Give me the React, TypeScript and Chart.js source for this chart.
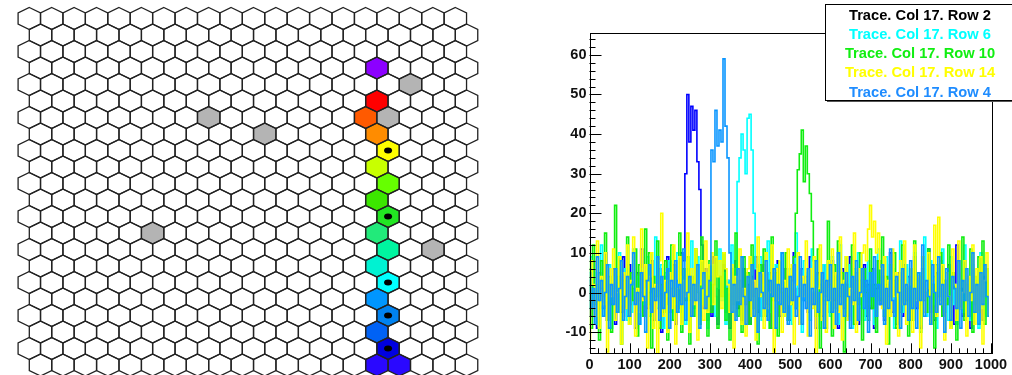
import { useEffect, useRef } from "react";
import { Chart, registerables } from "chart.js";

Chart.register(...registerables);

// ---------------- Detector map (honeycomb) ----------------
const GRID_COLS = 20;
const GRID_ROWS = 22;

// Pads with signal, coloured by amplitude
const HIT_ROWS = [3, 5, 6, 7, 8, 9, 10, 11, 12, 13, 14, 15, 16, 17, 18, 19, 20, 21, 21];
const HIT_COLS = [15, 15, 15, 15, 16, 15, 16, 15, 16, 15, 16, 15, 16, 15, 16, 15, 16, 15, 16];
const HIT_COLORS = [
  "#8c00ff", "#ff0000", "#ff5a00", "#ff8c00", "#ffff00", "#c8ff00", "#66ff00",
  "#3ce600", "#22e622", "#22ea7a", "#00f5a0", "#00f2d2", "#00ffff", "#0096ff",
  "#0082f0", "#0062f5", "#0000e0", "#2a08ff", "#2a08ff",
];

// Masked pads
const DEAD_ROWS = [4, 6, 6, 7, 13, 14];
const DEAD_COLS = [17, 8, 16, 10, 5, 18];
const DEAD_COLOR = "#b4b4b4";

// Pads whose traces are shown
const SEED_ROWS = [8, 12, 16, 18, 20];
const SEED_COLS = [16, 16, 16, 16, 16];

// ---------------- Traces ----------------
const SAMPLE_STEP = 5;
const TRACE_LABELS = [
  "Trace. Col 17. Row 2",
  "Trace. Col 17. Row 6",
  "Trace. Col 17. Row 10",
  "Trace. Col 17. Row 14",
  "Trace. Col 17. Row 4",
];
const TRACE_COLORS = ["#0000ff", "#00ffff", "#11ee11", "#ffff00", "#0a96ff"];
const LEGEND_TEXT_COLORS = ["#000000", "#00ffff", "#11ee11", "#ffff00", "#1e8cff"];
const TRACE_ORDER = [4, 3, 2, 1, 0];

const ROW2 = [
  3, -6, 8, -2, -9, 5, 1, -4, 10, -7, 2, -3, 6, -8, 0, 4, -5, 9, -1, -6,
  7, -3, 1, -9, 5, -2, 11, -6, 3, -4, 0, 8, -7, 2, -1, 6, -10, 4, -3, 9,
  -5, 1, 7, -8, 3, -2, 10, 8, 30, 50, 38, 47, 41, 46, 33, 26, 12, -4, 6, -7,
  2, -6, 9, -1, -8, 4, 0, 7, -5, 3, -9, 5, -2, 8, -4, 1, -7, 6, -3, 2,
  -8, 4, -1, 9, -5, 2, -6, 7, 0, -3, 5, -9, 3, -2, 8, -6, 1, -4, 6, -1,
  -7, 3, 10, -4, 1, -8, 6, -2, 4, -5, 9, -3, 0, -9, 5, 2, -6, 7, -1, 3,
  -5, 8, -2, 4, -9, 1, 6, -4, 2, -7, 9, -3, 0, 5, -8, 3, -1, 7, -6, 2,
  -4, 6, -9, 1, 8, -3, 4, -7, 2, -1, 10, -5, 3, -8, 5, 0, -6, 7, -2, 4,
  -7, 1, 9, -4, 3, -9, 6, -2, 0, 11, -5, 2, -7, 5, -1, 8, -6, 3, -3, 7,
  -2, 5, -8, 12, -4, 1, -6, 8, -1, 3, -9, 6, -3, 2, -5, 9, -7, 4, 0, -4,
];

const ROW6 = [
  -4, 9, -1, 5, -8, 2, 12, -6, 3, -2, 7, -9, 1, 4, -5, 10, -3, 0, 6, -7,
  2, -5, 11, -1, 4, -8, 6, -3, 1, 9, -6, 3, -2, 14, -4, 0, 7, -9, 5, -1,
  8, -7, 2, -3, 10, -5, 4, 0, -8, 6, -2, 13, -4, 1, 9, -6, 3, -1, 5, -9,
  4, -3, 7, -6, 1, 11, -2, 5, -8, 3, 0, 12, -5, 6, 28, 34, 40, 36, 30, 44,
  45, 36, 20, 6, -4, 9, -7, 2, -1, 13, -5, 4, -9, 7, 0, -3, 10, -6, 3, -2,
  6, -8, 1, 15, -4, 3, -10, 8, -2, 5, -7, 11, 0, -5, 4, -9, 2, 7, -3, 1,
  -6, 9, -1, 4, -8, 12, -3, 2, -5, 7, 0, -9, 6, -2, 10, -4, 3, -7, 1, 8,
  -3, 5, -8, 2, 11, -1, 4, -6, 9, -4, 0, 6, -9, 3, -2, 13, -5, 1, 7, -7,
  2, -4, 10, -1, 5, -8, 3, 14, -6, 0, 8, -3, 4, -9, 6, -2, 11, -5, 1, -7,
  9, -3, 2, -8, 5, 0, -5, 12, -2, 4, -7, 7, -1, 3, -9, 10, -4, 2, -6, 6,
];

const ROW10 = [
  6, -9, 12, -3, 2, -12, 8, -1, 15, -7, 4, -10, 1, 22, -5, 9, -13, 3, -4, 14,
  -8, 5, -2, 11, -11, 7, 0, -6, 16, -3, 10, -14, 4, -1, 13, -9, 2, -5, 8, -12,
  3, 12, -7, 1, -4, 15, -10, 6, -2, 9, -13, 4, -6, 11, 0, -8, 14, -3, 5, -11,
  8, -5, 2, 13, -9, 4, -1, 10, -7, 1, -12, 6, -3, 15, -6, 3, -10, 9, -2, 5,
  -8, 12, -4, 1, -13, 7, -1, 11, -6, 3, -9, 14, -2, 5, -11, 8, 0, -5, 10, -7,
  4, -3, 9, 20, 31, 35, 41, 28, 37, 30, 25, 18, 8, -6, 11, -14, 3, -2, -9, 18,
  2, -11, 7, -4, 13, -1, 5, -15, 9, -6, 1, 12, -8, 3, -3, 10, -12, 6, 0, -7,
  11, -4, 2, -10, 8, -2, 14, -6, 4, -13, 7, -1, 10, -9, 3, -5, 12, -3, 1, -11,
  6, -7, 13, -2, 4, -10, 9, 0, -5, 11, -8, 2, -14, 7, -1, 10, -6, 3, -3, 12,
  -9, 5, 1, -12, 8, -4, 14, -7, 2, -2, 11, -10, 4, -5, 9, -1, 13, -8, 6, -3,
];

const ROW14 = [
  -12, 8, 2, -6, 13, -9, 4, -3, 10, -15, 6, -1, 11, -7, 0, 9, -13, 5, -4, 12,
  -8, 3, 14, -11, 1, -5, 16, -2, 7, -14, 4, 10, -9, 2, -16, 8, 20, -6, 3, -10,
  5, -4, 12, -13, 1, 9, -8, 3, -1, 15, -10, 6, -3, 11, -12, 2, 8, -7, 13, -5,
  7, 10, -3, 9, 4, 8, -4, 10, 6, 2, -5, 7, -14, 4, -2, 11, -8, 1, -11, 6,
  9, -6, 3, -12, 14, -1, 5, -9, 10, -4, 0, 12, -15, 6, -2, 8, -10, 3, -6, 11,
  -3, 7, -13, 2, 10, -8, 4, -1, 13, -11, 6, -4, 9, -16, 1, 12, -7, 3, -10, 8,
  -2, 11, -9, 5, -5, 14, -12, 3, 9, -7, 1, -3, 15, -10, 6, -1, 10, 12, 8, 16,
  22, 14, 18, 10, 15, 6, -4, 9, -13, 3, -6, 11, -1, 5, -11, 8, -3, 13, -8, 2,
  6, -10, 12, -2, 4, -14, 9, -5, 1, 10, -8, 3, 17, -6, 19, -3, 7, -12, 5, -1,
  -9, 11, 2, -7, 13, -4, 0, 8, -11, 4, -2, 12, -8, 6, -5, 9, -13, 3, 10, -6,
];

const ROW4 = [
  5, -4, 1, -8, 9, -2, 3, -6, 0, 7, -9, 2, -3, 6, -5, 1, 8, -7, -1, 4,
  -6, 2, 10, -3, 0, -8, 5, -1, -10, 3, 7, -5, 1, -2, 9, -7, 4, -4, 0, 6,
  -9, 3, -1, 8, -5, 2, -3, 11, -7, 0, 4, -6, 2, -2, 7, -9, 1, 5, -4, -1,
  3, 36, 33, 46, 37, 41, 38, 59, 42, 34, 10, -5, 2, -7, 6, -3, 9, -1, -8, 4,
  -2, 7, -6, 1, -10, 5, 0, -4, 8, -7, 3, -1, 6, -9, 2, -3, 10, -5, 1, -8,
  4, -2, 7, -6, -1, 9, -8, 2, -4, 6, -11, 1, -3, 8, -5, 0, 5, -9, 3, -2,
  7, -5, 1, -8, 10, -3, 2, -6, 5, -1, -9, 4, -2, 8, -7, 0, 6, -4, 3, -10,
  5, -1, 9, -6, 2, -3, 7, -8, 1, -4, 11, -2, -6, 4, 0, -9, 6, -3, 2, -7,
  8, -4, 1, -9, 5, -2, 12, -6, 3, -1, -8, 7, 0, -5, 9, -3, 2, -10, 6, -1,
  -7, 4, 1, -4, 8, -9, 3, -2, 6, -6, 0, 10, -5, 2, -8, 5, -3, 7, -1, -6,
];

const TRACES = [ROW2, ROW6, ROW10, ROW14, ROW4];

const X_TICKS = [0, 100, 200, 300, 400, 500, 600, 700, 800, 900, 1000];
const Y_TICKS = [-10, 0, 10, 20, 30, 40, 50, 60];
const X_RANGE = [0, 1000];
const Y_RANGE = [-15.35, 65.45];
const X_MINOR = 20;
const Y_MINOR = 2;

const FONT = "'Liberation Sans', Arial, Helvetica, sans-serif";

// ---------------- Plugins ----------------
const hexPlugin = {
  id: "hexCells",
  afterDatasetsDraw(chart: any) {
    const ctx = chart.ctx;
    const xs = chart.scales.x;
    const ys = chart.scales.y;
    const hw = Math.abs(xs.getPixelForValue(1) - xs.getPixelForValue(0)) / 2;
    const hh = Math.abs(ys.getPixelForValue(1) - ys.getPixelForValue(0)) / 1.5;
    const cells = chart.getDatasetMeta(0).data;
    const fills = chart.data.datasets[0].backgroundColor;
    const hexPath = (cx: number, cy: number) => {
      ctx.beginPath();
      ctx.moveTo(cx, cy - hh);
      ctx.lineTo(cx + hw, cy - hh / 2);
      ctx.lineTo(cx + hw, cy + hh / 2);
      ctx.lineTo(cx, cy + hh);
      ctx.lineTo(cx - hw, cy + hh / 2);
      ctx.lineTo(cx - hw, cy - hh / 2);
      ctx.closePath();
    };
    ctx.save();
    cells.forEach((el: any, i: number) => {
      hexPath(el.x, el.y);
      ctx.fillStyle = fills[i];
      ctx.fill();
    });
    ctx.strokeStyle = "#222222";
    ctx.lineWidth = 1.3;
    cells.forEach((el: any) => {
      hexPath(el.x, el.y);
      ctx.stroke();
    });
    ctx.fillStyle = "#000";
    chart.getDatasetMeta(1).data.forEach((el: any) => {
      ctx.beginPath();
      ctx.ellipse(el.x, el.y, 4, 3, 0, 0, Math.PI * 2);
      ctx.fill();
    });
    ctx.restore();
  },
};

const framePlugin = {
  id: "frameTicks",
  afterDatasetsDraw(chart: any) {
    const { ctx, chartArea: a } = chart;
    const xs = chart.scales.x;
    const ys = chart.scales.y;
    ctx.save();
    ctx.strokeStyle = "#000";
    ctx.lineWidth = 1;
    ctx.strokeRect(Math.round(a.left) + 0.5, Math.round(a.top) + 0.5,
      Math.round(a.right - a.left), Math.round(a.bottom - a.top));
    ctx.beginPath();
    for (let v = Math.ceil(ys.min / Y_MINOR) * Y_MINOR; v <= ys.max; v += Y_MINOR) {
      const py = Math.round(ys.getPixelForValue(v)) + 0.5;
      const len = v % 10 === 0 ? 12 : 6;
      ctx.moveTo(a.left, py);
      ctx.lineTo(a.left + len, py);
    }
    for (let v = Math.ceil(xs.min / X_MINOR) * X_MINOR; v <= xs.max; v += X_MINOR) {
      const px = Math.round(xs.getPixelForValue(v)) + 0.5;
      const len = v % 100 === 0 ? 10 : 5;
      ctx.moveTo(px, a.bottom);
      ctx.lineTo(px, a.bottom - len);
    }
    ctx.stroke();
    ctx.restore();
  },
};

const legendPlugin = {
  id: "traceLegend",
  afterDraw(chart: any) {
    const ctx = chart.ctx;
    const bx = 345;
    const by = 4;
    const bw = 200;
    const bh = 96;
    ctx.save();
    ctx.fillStyle = "#555";
    ctx.fillRect(bx + 2, by + 2, bw, bh);
    ctx.fillStyle = "#fff";
    ctx.fillRect(bx, by, bw, bh);
    ctx.strokeStyle = "#000";
    ctx.lineWidth = 1;
    ctx.strokeRect(bx + 0.5, by + 0.5, bw, bh);
    ctx.font = `bold 14.7px ${FONT}`;
    ctx.textAlign = "center";
    ctx.textBaseline = "middle";
    const lineY = [15.5, 35, 54, 73.2, 92.8];
    chart.data.datasets.forEach((ds: any, i: number) => {
      ctx.fillStyle = LEGEND_TEXT_COLORS[i];
      ctx.fillText(ds.label, 440, lineY[i]);
    });
    ctx.restore();
  },
};

function HexMap() {
  const ref = useRef<HTMLCanvasElement>(null);
  useEffect(() => {
    const cells: { x: number; y: number }[] = [];
    const fills: string[] = [];
    for (let r = 0; r < GRID_ROWS; r++) {
      for (let c = 0; c < GRID_COLS; c++) {
        cells.push({ x: c + (r % 2 === 1 ? 0.5 : 0), y: r });
        let fill = "#ffffff";
        HIT_ROWS.forEach((hr, k) => {
          if (hr === r && HIT_COLS[k] === c) fill = HIT_COLORS[k];
        });
        DEAD_ROWS.forEach((dr, k) => {
          if (dr === r && DEAD_COLS[k] === c) fill = DEAD_COLOR;
        });
        fills.push(fill);
      }
    }
    const seeds = SEED_ROWS.map((r, k) => ({ x: SEED_COLS[k] + (r % 2 === 1 ? 0.5 : 0), y: r }));
    const chart = new Chart(ref.current!, {
      type: "scatter",
      data: {
        datasets: [
          { data: cells, pointRadius: 0, backgroundColor: fills },
          { data: seeds, pointRadius: 0 },
        ],
      },
      options: {
        responsive: false,
        animation: false,
        events: [],
        layout: { padding: 0 },
        plugins: { legend: { display: false }, tooltip: { enabled: false } },
        scales: {
          x: { type: "linear", display: false, min: -1.307, max: 20.1 },
          y: { type: "linear", display: false, min: -1.121, max: 21.606, reverse: true },
        },
      },
      plugins: [hexPlugin],
    } as any);
    return () => chart.destroy();
  }, []);
  return (
    <canvas
      ref={ref}
      width={480}
      height={375}
      style={{ position: "absolute", left: 0, top: 0, width: 480, height: 375 }}
    />
  );
}

function Traces() {
  const ref = useRef<HTMLCanvasElement>(null);
  useEffect(() => {
    const datasets = TRACES.map((vals, k) => ({
      label: TRACE_LABELS[k],
      data: vals.map((v, i) => ({ x: i * SAMPLE_STEP, y: v })),
      borderColor: TRACE_COLORS[k],
      borderWidth: 1.6,
      pointRadius: 0,
      stepped: "middle",
      fill: false,
      order: TRACE_ORDER[k],
    }));
    const tickFont = { family: FONT, size: 14.5, weight: "bold" as const };
    const chart = new Chart(ref.current!, {
      type: "line",
      data: { datasets },
      options: {
        responsive: false,
        animation: false,
        events: [],
        layout: { padding: { top: 33.3, right: 21, bottom: 0, left: 0 } },
        plugins: { legend: { display: false }, tooltip: { enabled: false } },
        scales: {
          x: {
            type: "linear",
            min: X_RANGE[0],
            max: X_RANGE[1],
            grid: { display: false, drawTicks: false },
            border: { display: false },
            ticks: {
              font: tickFont,
              color: "#111",
              padding: 3,
              maxRotation: 0,
              autoSkip: false,
              callback: (v: number) => String(v),
            },
            afterBuildTicks: (s: any) => {
              s.ticks = X_TICKS.map((v) => ({ value: v }));
            },
            afterFit: (s: any) => {
              s.height = 21.7;
            },
          },
          y: {
            type: "linear",
            min: Y_RANGE[0],
            max: Y_RANGE[1],
            grid: { display: false, drawTicks: false },
            border: { display: false },
            ticks: {
              font: tickFont,
              color: "#111",
              padding: 3,
              autoSkip: false,
              callback: (v: number) => String(v),
            },
            afterBuildTicks: (s: any) => {
              s.ticks = Y_TICKS.map((v) => ({ value: v }));
            },
            afterFit: (s: any) => {
              s.width = 109.5;
            },
          },
        },
      },
      plugins: [framePlugin, legendPlugin],
    } as any);
    return () => chart.destroy();
  }, []);
  return (
    <canvas
      ref={ref}
      width={532}
      height={375}
      style={{ position: "absolute", left: 480, top: 0, width: 532, height: 375 }}
    />
  );
}

export default function App() {
  return (
    <div
      style={{
        position: "fixed",
        left: 0,
        top: 0,
        width: 1012,
        height: 375,
        background: "#ffffff",
        overflow: "hidden",
      }}
    >
      <HexMap />
      <Traces />
    </div>
  );
}
